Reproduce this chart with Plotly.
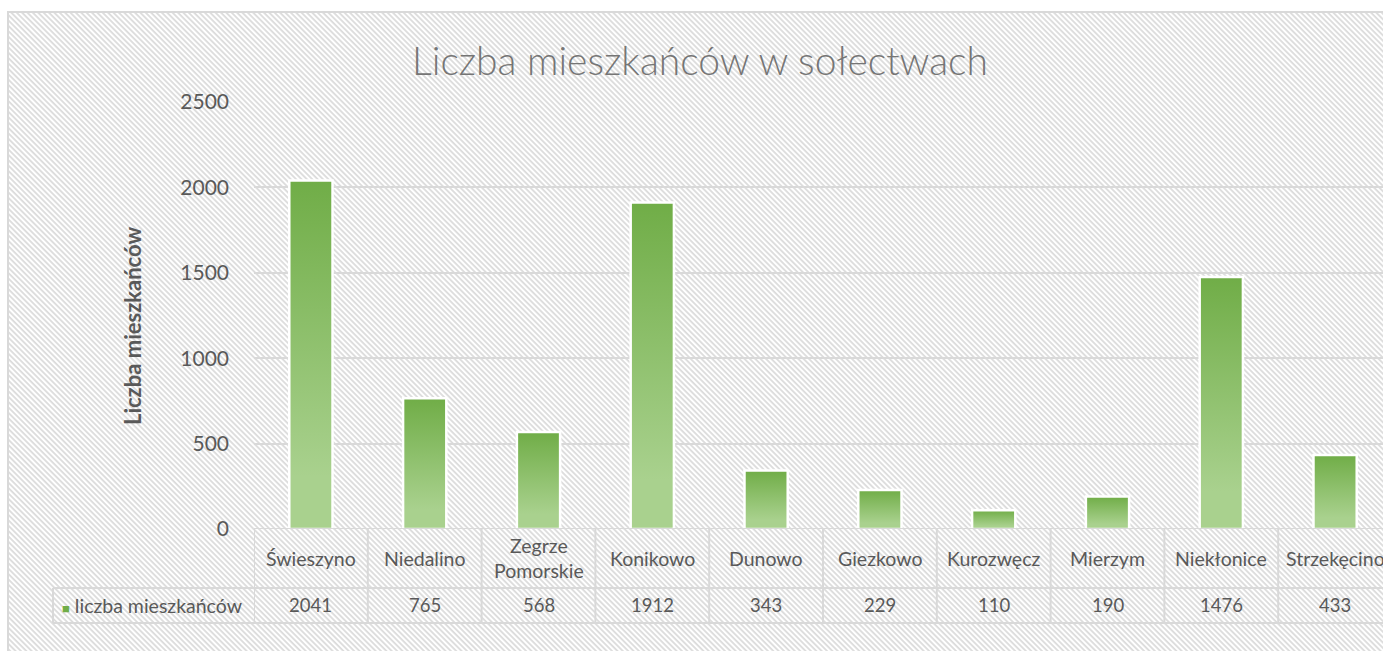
import base64
import plotly.graph_objects as go

# ---- data ----
categories = ["Świeszyno", "Niedalino", "Zegrze<br>Pomorskie", "Konikowo", "Dunowo",
              "Giezkowo", "Kurozwęcz", "Mierzym", "Niekłonice", "Strzekęcino"]
values = [2041, 765, 568, 1912, 343, 229, 110, 190, 1476, 433]
series_name = "liczba mieszkańców"
y_ticks = [0, 500, 1000, 1500, 2000, 2500]
title_text = "Liczba mieszkańców w sołectwach"
y_title = "Liczba mieszkańców"

W, H = 1383, 651
ML, MR, MT, MB = 254, 0, 102, 122
FONT = "Lato"
TXT = "#595959"
GRID = "#d9d9d9"

# ---- hatched background (decoration) ----
svg = f'''<svg xmlns="http://www.w3.org/2000/svg" width="{W}" height="{H}" viewBox="0 0 {W} {H}" preserveAspectRatio="none">
<defs><pattern id="p" width="3.8" height="3.8" patternUnits="userSpaceOnUse" patternTransform="rotate(45)">
<rect width="3.8" height="3.8" fill="#ffffff"/><rect width="3.8" height="1.8" fill="#dcdcdc"/></pattern></defs>
<rect width="{W}" height="{H}" fill="#ffffff"/>
<rect x="8" y="12" width="{W+20}" height="{H+20}" fill="url(#p)" stroke="#d9d9d9" stroke-width="2"/>
</svg>'''
bg_uri = "data:image/svg+xml;base64," + base64.b64encode(svg.encode()).decode()

pw, ph = W - ML - MR, H - MT - MB

fig = go.Figure()

bar_half = 0.19
for i, v in enumerate(values):
    fig.add_trace(go.Scatter(
        x=[i - bar_half, i - bar_half, i + bar_half, i + bar_half, i - bar_half],
        y=[0, v, v, 0, 0],
        mode="lines", fill="toself",
        line=dict(color="#ffffff", width=2.5),
        fillgradient=dict(type="vertical",
                          colorscale=[[0, "#a9d18e"], [0.15, "#a9d18e"], [1, "#70ad47"]]),
        showlegend=False, hoverinfo="skip",
    ))

n = len(categories)
cell_px = 113.8
x_hi = -0.5 + pw / cell_px

shapes = []
line_style = dict(color=GRID, width=2)
y_row1 = -(588 - (MT + ph)) / ph
y_row2 = -(623 - (MT + ph)) / ph
x_left = (53 - ML) / pw
shapes.append(dict(type="line", xref="paper", yref="y", x0=0, x1=1, y0=0, y1=0, line=line_style))
for yy in (y_row1, y_row2):
    shapes.append(dict(type="line", xref="paper", yref="paper", x0=x_left, x1=1, y0=yy, y1=yy, line=line_style))
shapes.append(dict(type="line", xref="paper", yref="paper", x0=x_left, x1=x_left, y0=y_row1, y1=y_row2, line=line_style))
for k in range(n + 1):
    shapes.append(dict(type="line", xref="x", yref="paper", x0=k - 0.5, x1=k - 0.5, y0=0, y1=y_row2, line=line_style))

annotations = []
y_cat = -(558 - (MT + ph)) / ph
y_val = -(605 - (MT + ph)) / ph
for i, (c, v) in enumerate(zip(categories, values)):
    annotations.append(dict(x=i, y=y_cat, xref="x", yref="paper", text=c, showarrow=False,
                            xanchor="center", yanchor="middle", font=dict(family=FONT, size=19.5, color=TXT)))
    annotations.append(dict(x=i, y=y_val, xref="x", yref="paper", text=str(v), showarrow=False,
                            xanchor="center", yanchor="middle", font=dict(family=FONT, size=18.5, color=TXT)))
# legend key cell
annotations.append(dict(x=(60 - ML) / pw, y=y_val, xref="paper", yref="paper",
                        text=f"<span style='color:#70ad47;font-size:13px'>■</span> {series_name}",
                        showarrow=False, xanchor="left", yanchor="middle",
                        font=dict(family=FONT, size=19.5, color=TXT)))
# title
annotations.append(dict(x=(700 - ML) / pw, y=-(60 - (MT + ph)) / ph, xref="paper", yref="paper",
                        text=title_text, showarrow=False, xanchor="center", yanchor="middle",
                        font=dict(family=FONT, size=39, color="#757575", weight=300)))
# y-axis title
annotations.append(dict(x=(132 - ML) / pw, y=-(326 - (MT + ph)) / ph, xref="paper", yref="paper",
                        text=f"<b>{y_title}</b>", showarrow=False, textangle=-90,
                        xanchor="center", yanchor="middle",
                        font=dict(family=FONT, size=22, color=TXT)))

fig.update_layout(
    width=W, height=H,
    margin=dict(l=ML, r=MR, t=MT, b=MB),
    paper_bgcolor="rgba(0,0,0,0)", plot_bgcolor="rgba(0,0,0,0)",
    images=[dict(source=bg_uri, xref="paper", yref="paper",
                 x=-ML / pw, y=1 + MT / ph, sizex=W / pw, sizey=H / ph,
                 xanchor="left", yanchor="top", sizing="stretch", layer="below")],
    xaxis=dict(range=[-0.5, x_hi], showgrid=False, showticklabels=False, zeroline=False,
               showline=False, ticks="", fixedrange=True),
    yaxis=dict(range=[0, 2500], tickvals=y_ticks, ticktext=[str(t) for t in y_ticks],
               showgrid=True, gridcolor=GRID, gridwidth=1.5, zeroline=False, showline=False,
               ticks="", ticklabelstandoff=24, fixedrange=True,
               tickfont=dict(family=FONT, size=21, color=TXT)),
    shapes=shapes, annotations=annotations, showlegend=False,
)

fig.write_html("out.html", config={"displayModeBar": False},
               post_script="document.body.style.margin='0';document.body.style.overflow='hidden';")
